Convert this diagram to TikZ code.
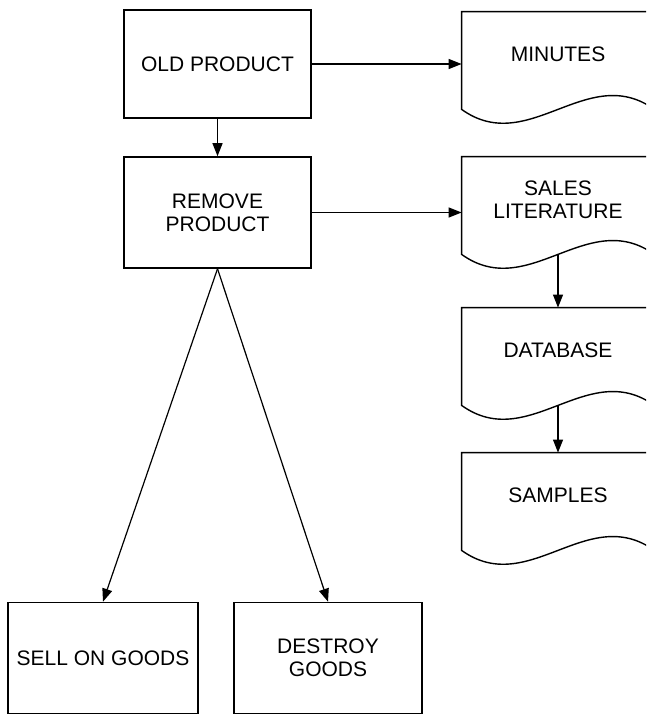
\documentclass[tikz,border=0pt]{standalone}
\usepackage{fontspec}
\setmainfont{Liberation Sans}
\usetikzlibrary{arrows.meta,calc}

\tikzset{
    box/.style={draw, line width=0.8pt, minimum width=93.5pt, minimum height=55.5pt,
        align=center, inner sep=2pt, font=\fontsize{10.5}{11.5}\selectfont},
    doc/.style={minimum width=96pt, minimum height=42.5pt, align=center,
        inner sep=2pt, font=\fontsize{10.5}{11.5}\selectfont},
    link/.style={line width=0.6pt, -{Triangle[length=6.5pt, width=5pt]}}
}

% document outline with wavy bottom, foot = middle of the wave
% (the right side runs off the page)
\newcommand{\docoutline}[1]{%
    \coordinate (#1-sw) at ($(#1.south west)+(0,12)$);
    \coordinate (#1-se) at ($(#1.south east)+(0,12)$);
    \coordinate (#1-foot) at ($(#1.south)+(0,12)$);
    \draw [line width=0.7pt] (#1.north east) -- (#1.north west) -- (#1-sw)
        .. controls ($(#1-sw)+(67,48)$) and ($(#1-se)+(-67,-48)$) .. (#1-se);}

\begin{document}
\begin{tikzpicture}[x=0.5pt, y=0.5pt, yscale=-1]
    % page frame
    \useasboundingbox (0, 0) rectangle (646, 715);
    \clip (0, 0) rectangle (646, 715);
    % process boxes
    \node [box, minimum height=54pt] (old) at (217.5, 64) {OLD PRODUCT};
    \node [box] (remove) at (217.5, 212.5) {REMOVE\\PRODUCT};
    \node [box, minimum width=95pt] (sell) at (103, 658) {SELL ON GOODS};
    \node [box, minimum width=94pt] (destroy) at (328, 658) {DESTROY\\GOODS};
    % documents
    \node [doc] (minutes) at (558, 54.5) {MINUTES};
    \node [doc] (sales) at (558, 199.5) {SALES\\LITERATURE};
    \node [doc] (database) at (558, 350.5) {DATABASE};
    \node [doc] (samples) at (558, 495.5) {SAMPLES};
    \foreach \d in {minutes, sales, database, samples}
        \docoutline{\d};
    % connectors
    \draw [link] (old.east) -- (old.east -| minutes.west);
    \draw [link] (old.south) -- (remove.north);
    \draw [link] (remove.east) -- (remove.east -| sales.west);
    \draw [link] (sales-foot) -- (database.north);
    \draw [link] (database-foot) -- (samples.north);
    \draw [link] (remove.south) -- (sell.north);
    \draw [link] (remove.south) -- (destroy.north);
\end{tikzpicture}
\end{document}
